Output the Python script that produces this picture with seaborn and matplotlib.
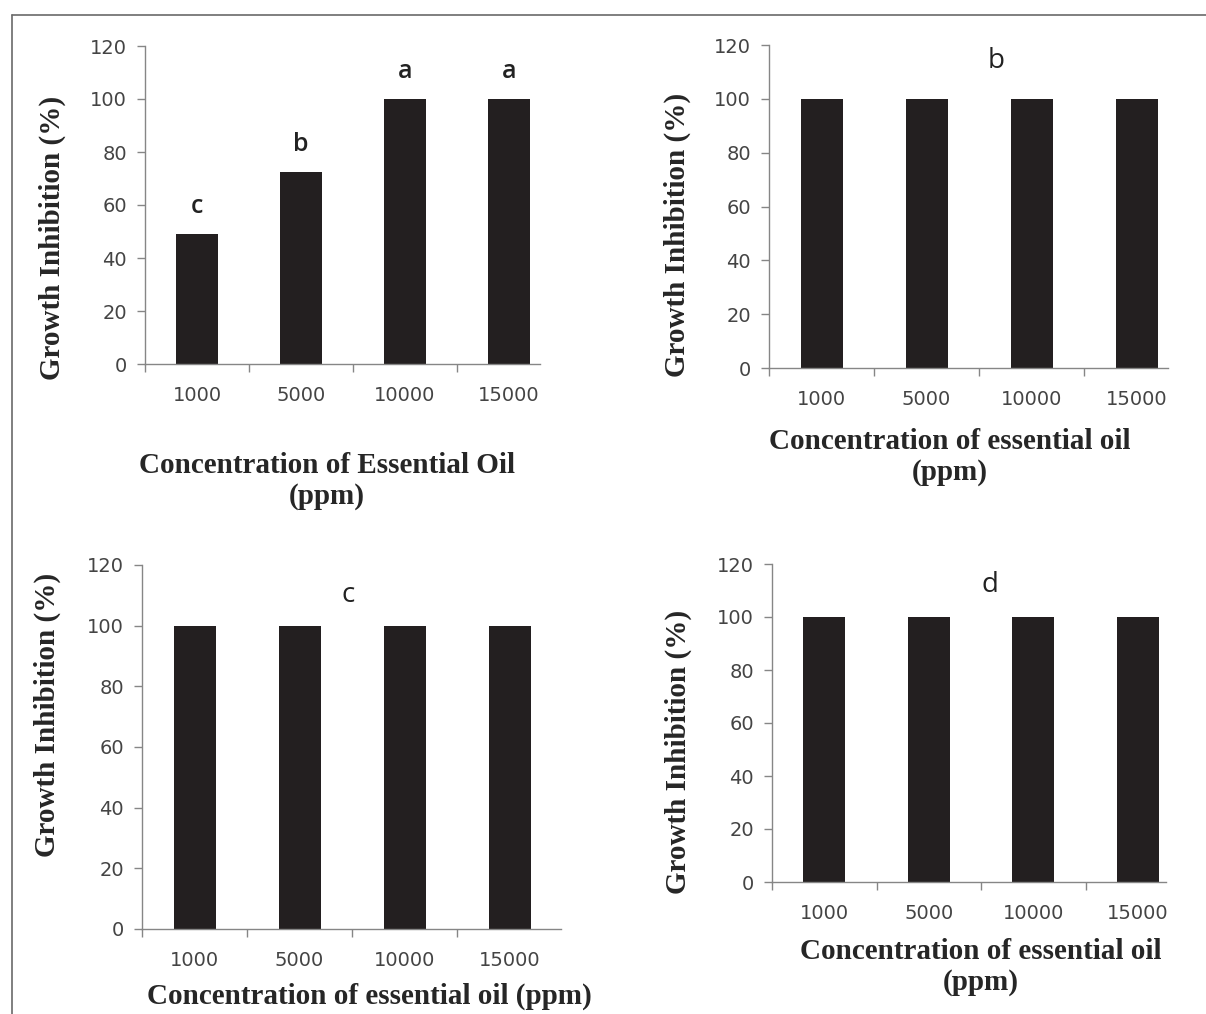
import matplotlib
matplotlib.use("Agg")
import matplotlib.pyplot as plt
import seaborn as sns
from matplotlib.lines import Line2D

# data
concentrations = ["1000", "5000", "10000", "15000"]
inhibition_a = [49, 72.5, 100, 100]
inhibition_b = [100, 100, 100, 100]
inhibition_c = [100, 100, 100, 100]
inhibition_d = [100, 100, 100, 100]
letters_a = ["c", "b", "a", "a"]
panel_titles = ["", "b", "c", "d"]
xlabels = ["Concentration of Essential Oil\n(ppm)",
           "Concentration of essential oil\n(ppm)",
           "Concentration of essential oil (ppm)",
           "Concentration of essential oil\n(ppm)"]
ylabel = "Growth Inhibition (%)"

sns.set_style("ticks")
plt.rcParams['font.family'] = ['DejaVu Sans']

W, H = 1206, 1014
fig = plt.figure(figsize=(W / 100, H / 100), dpi=100)

# pixel boxes: left, right, top(=120), bottom(=0), category spacing
boxes = [(145, 540, 46, 364, 104),
         (769, 1168, 45, 368, 105),
         (142, 561, 565, 929, 105),
         (772, 1166, 564, 882, 104.5)]
xlabel_pos = [(327, 481), (950, 457), (369, 996), (981, 967)]
ylabel_pos = [(52, 238), (677, 235), (47, 715), (678, 752)]
title_pos = [None, (1.66, 114), (1.46, 110), (1.59, 112)]

values = [inhibition_a, inhibition_b, inhibition_c, inhibition_d]
bar_color = "#231f20"
axis_color = "#868686"
tick_text = "#444444"

for i in range(4):
    l, r, t, b, sp = boxes[i]
    ax = fig.add_axes([l / W, 1 - b / H, (r - l) / W, (b - t) / H])
    sns.barplot(x=concentrations, y=values[i], order=concentrations,
                color=bar_color, width=0.4, linewidth=0, saturation=1, ax=ax)
    ax.set_yticks(range(0, 121, 20))
    ax.set_xticks(range(4))
    ax.set_xticks([-0.5, 0.5, 1.5, 2.5, 3.5], minor=True)
    ax.set_ylim(0, 120)
    ax.set_xlim(-0.5, -0.5 + (r - l) / sp)
    for side in ["top", "right"]:
        ax.spines[side].set_visible(False)
    for side in ["left", "bottom"]:
        ax.spines[side].set_color(axis_color)
        ax.spines[side].set_linewidth(1.0)
    ax.tick_params(axis="y", direction="out", length=6, width=1.0,
                   color=axis_color, labelsize=14, labelcolor=tick_text, pad=7)
    ax.tick_params(axis="x", which="major", length=0, labelsize=14,
                   labelcolor=tick_text, pad=16)
    ax.tick_params(axis="x", which="minor", direction="out", length=6,
                   width=1.0, color=axis_color)

    xl = ax.set_xlabel(xlabels[i], fontsize=21, fontweight="bold",
                       family="Liberation Serif", linespacing=1.22)
    xl.set_verticalalignment("center")
    px, py = xlabel_pos[i]
    ax.xaxis.set_label_coords((px - l) / (r - l), (b - py) / (b - t))
    yl = ax.set_ylabel(ylabel, fontsize=21, fontweight="bold",
                       family="Liberation Serif")
    yl.set_verticalalignment("center")
    px, py = ylabel_pos[i]
    ax.yaxis.set_label_coords((px - l) / (r - l), (b - py) / (b - t))

    if i == 0:
        for k, (v, s) in enumerate(zip(inhibition_a, letters_a)):
            ax.text(k, v + 10.5, s, ha="center", va="center", fontsize=18,
                    family="Open Sans", fontweight="semibold", color="#222222")
    else:
        tx, ty = title_pos[i]
        ax.text(tx, ty, panel_titles[i], ha="center", va="center",
                fontsize=20, family="Open Sans", color="#222222")

# frame around the figure (top and left edges visible)
fig.add_artist(Line2D([12 / W, 1.0], [1 - 15 / H, 1 - 15 / H],
                      color="#6a6a6a", lw=1.2))
fig.add_artist(Line2D([12 / W, 12 / W], [1 - 15 / H, 0.0],
                      color="#6a6a6a", lw=1.2))

fig.savefig("out.png", dpi=100)
